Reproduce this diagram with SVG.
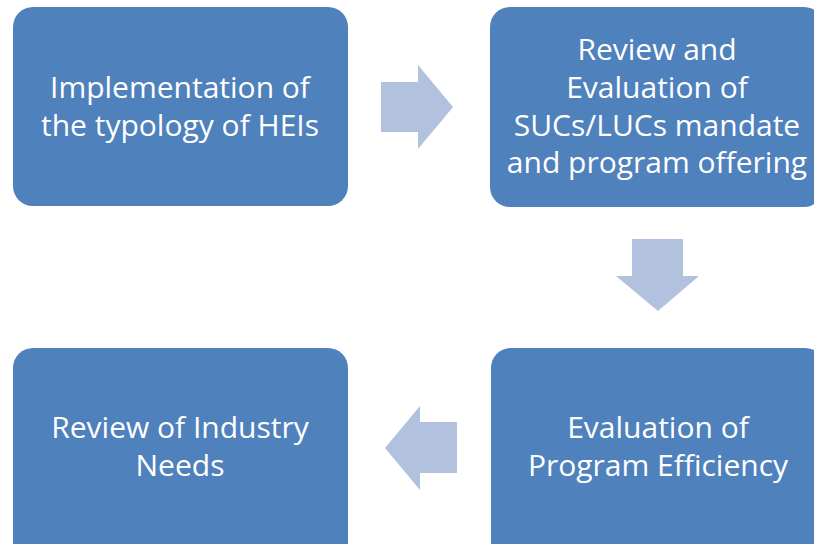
<svg xmlns="http://www.w3.org/2000/svg" width="814" height="544" viewBox="0 0 814 544">
<style>
.box{fill:#4F81BD}
.arr{fill:#B2C1DD}
.t{font-family:"Open Sans","Liberation Sans",sans-serif;font-size:30px;fill:#FFFFFF;text-anchor:middle}
</style>
<rect width="814" height="544" fill="#FFFFFF"/>
<g id="connectors">
<polygon class="arr" points="381,82 418,82 418,65 453,107 418,149 418,132 381,132"/>
<polygon class="arr" points="632,239 683,239 683,276 699,276 658,311 616,276 632,276"/>
<polygon class="arr" points="457,422 420,422 420,406 385,448 420,490 420,473 457,473"/>
</g>
<g id="node1">
<rect class="box" x="13" y="7" width="335" height="199" rx="20"/>
<text class="t" x="180" y="98">Implementation of</text>
<text class="t" x="180" y="136">the typology of HEIs</text>
</g>
<g id="node2">
<rect class="box" x="490" y="7" width="334" height="200" rx="20"/>
<text class="t" x="657" y="60">Review and</text>
<text class="t" x="657" y="98">Evaluation of</text>
<text class="t" x="657" y="136">SUCs/LUCs mandate</text>
<text class="t" x="657" y="173">and program offering</text>
</g>
<g id="node3">
<rect class="box" x="491" y="348" width="334" height="220" rx="20"/>
<text class="t" x="658" y="438">Evaluation of</text>
<text class="t" x="658" y="476">Program Efficiency</text>
</g>
<g id="node4">
<rect class="box" x="13" y="348" width="335" height="220" rx="20"/>
<text class="t" x="180" y="438">Review of Industry</text>
<text class="t" x="180" y="476">Needs</text>
</g>
</svg>
